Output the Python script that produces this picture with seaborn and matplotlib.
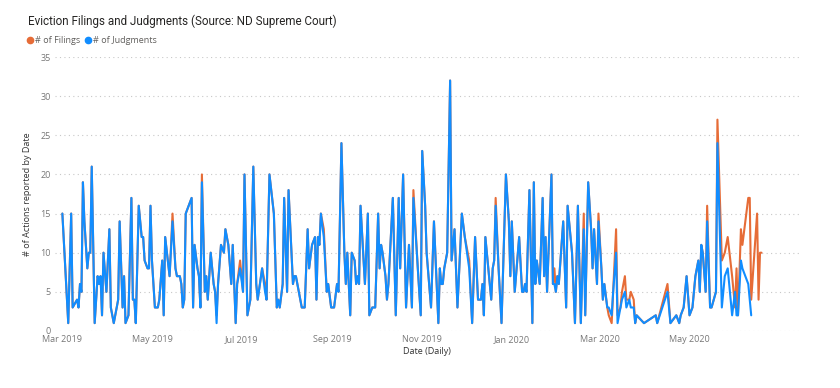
import matplotlib
matplotlib.use('Agg')
import matplotlib.pyplot as plt
import matplotlib.dates as mdates
from matplotlib.lines import Line2D
import pandas as pd
import seaborn as sns

# data: days since 2019-03-01, and counts per day
start = '2019-03-01'
day_offsets = [
    0, 4, 6, 7, 10, 11, 12, 13, 14, 15, 17, 18, 19, 20, 22, 24, 25, 26, 27, 28, 30, 32, 33, 35, 38, 39, 41, 42, 43,
    45, 47, 48, 49, 50, 52, 54, 55, 56, 58, 59, 60, 61, 63, 65, 66, 68, 69, 70, 73, 75, 77, 78, 80, 81, 82, 83, 84, 88, 89, 90, 92, 93,
    94, 95, 97, 98, 99, 101, 103, 104, 105, 106, 108, 110, 111, 113, 115, 116, 118, 119, 121, 123, 124, 126, 128, 130, 132, 133, 136, 138, 139, 141,
    144, 146, 147, 148, 150, 151, 153, 154, 157, 158, 159, 160, 162, 163, 165, 167, 168, 170, 172, 173, 174, 175, 176, 178, 180, 181, 183, 185, 187, 188, 190,
    192, 193, 194, 196, 197, 199, 200, 201, 202, 203, 206, 208, 209, 211, 213, 215, 216, 217, 218, 220, 221, 222, 225, 227, 229, 230, 232, 234, 236, 238, 239,
    242, 244, 245, 247, 248, 251, 253, 256, 257, 258, 259, 260, 262, 264, 265, 267, 269, 272, 274, 277, 279, 281, 283, 285, 286, 287, 288,
    292, 293, 294, 295, 297, 299, 302, 304, 305, 306, 308, 311, 313, 314, 315, 316, 318, 320, 321, 322, 323, 325, 327, 328, 329, 330, 333, 334, 335, 336, 337,
    338, 341, 343, 344, 347, 349, 351, 353, 355, 356, 358, 360, 361, 362, 364, 365, 367, 368, 369, 371, 372, 374, 375, 377, 378, 380, 381, 383, 384, 386,
    387, 389, 390, 391, 396, 404, 405, 412, 414, 418, 420, 421, 423, 425, 427, 429, 431, 432, 433, 434, 435, 436,
    438, 439, 441, 442, 445, 446, 449, 451, 453, 456, 458, 459, 460, 462, 463, 465, 467, 468, 469, 473, 474, 475, 476,
]
judgments = [
    15, 1, 15, 3, 4, 3, 6, 5, 19, 14, 8, 10, 10, 21, 1, 7, 6, 7, 2, 10, 5, 13, 3, 1, 4, 14, 3, 7, 1,
    2, 17, 4, 4, 1, 16, 12, 12, 9, 8, 8, 16, 9, 3, 3, 4, 9, 2, 12, 7, 14, 8, 7, 7, 6, 3, 4, 15, 17, 3, 11, 8, 7,
    3, 19, 5, 7, 4, 10, 6, 5, 1, 6, 11, 10, 13, 11, 6, 11, 1, 6, 8, 5, 20, 2, 4, 21, 6, 4, 8, 5, 4, 20,
    15, 3, 4, 3, 6, 17, 5, 18, 6, 7, 7, 6, 4, 3, 3, 13, 8, 11, 12, 4, 12, 11, 15, 12, 5, 6, 3, 3, 6, 5, 24,
    10, 6, 10, 2, 10, 9, 6, 7, 6, 16, 6, 15, 2, 3, 3, 15, 8, 11, 10, 7, 4, 6, 17, 2, 17, 8, 20, 3, 11, 3, 17,
    8, 2, 23, 16, 10, 3, 14, 1, 8, 6, 6, 8, 10, 32, 9, 13, 3, 15, 12, 8, 1, 12, 4, 4, 6, 2, 12,
    4, 8, 9, 16, 8, 1, 20, 14, 7, 14, 5, 12, 5, 5, 6, 5, 18, 1, 19, 6, 9, 6, 17, 7, 12, 5, 20, 6, 6, 5, 7,
    6, 14, 3, 16, 10, 1, 16, 1, 13, 2, 19, 13, 8, 13, 6, 14, 8, 4, 6, 3, 3, 2, 5, 10, 1, 3, 4, 5, 3, 4,
    3, 3, 1, 2, 1, 2, 1, 5, 1, 2, 1, 2, 3, 7, 2, 3, 7, 8, 9, 5, 11, 10,
    5, 14, 3, 3, 5, 24, 3, 7, 8, 2, 5, 2, 2, 9, 8, 7, 6, 4, 2, None, None, None, None,
]
filings = [
    15, 1, 15, 3, 4, 3, 6, 5, 19, 14, 8, 10, 10, 21, 1, 7, 6, 7, 2, 10, 5, 13, 3, 1, 4, 14, 3, 7, 1,
    2, 17, 4, 4, 1, 16, 12, 12, 9, 8, 8, 16, 9, 3, 3, 4, 9, 2, 12, 7, 15, 8, 7, 7, 6, 3, 4, 15, 17, 3, 11, 8, 7,
    3, 20, 5, 7, 4, 10, 6, 5, 2, 6, 11, 10, 13, 11, 6, 11, 1, 6, 9, 5, 20, 2, 4, 21, 6, 4, 8, 6, 4, 20,
    15, 3, 4, 3, 6, 17, 5, 18, 6, 7, 7, 6, 4, 3, 3, 13, 8, 11, 12, 4, 12, 11, 15, 13, 5, 6, 3, 3, 6, 5, 24,
    10, 6, 10, 2, 10, 9, 6, 7, 6, 16, 6, 15, 2, 3, 3, 15, 8, 11, 10, 7, 4, 6, 17, 2, 17, 8, 20, 3, 11, 3, 18,
    8, 2, 23, 16, 10, 3, 14, 1, 8, 6, 6, 8, 10, 32, 9, 13, 3, 15, 12, 9, 1, 12, 4, 4, 6, 2, 12,
    4, 8, 9, 17, 8, 1, 20, 14, 7, 14, 5, 12, 5, 5, 6, 5, 18, 1, 19, 6, 9, 6, 17, 7, 12, 5, 20, 6, 8, 5, 7,
    6, 14, 3, 16, 10, 1, 16, 1, 15, 2, 19, 13, 8, 13, 6, 15, 8, 4, 6, 3, 2, 1, 5, 13, 2, 3, 5, 7, 4, 4,
    5, 4, 1, 2, 1, 2, 1, 6, 1, 2, 1, 2, 3, 7, 2, 3, 7, 8, 9, 5, 11, 10,
    5, 16, 3, 3, 5, 27, 9, 10, 12, 7, 3, 8, 2, 13, 11, 14, 17, 17, 4, 15, 4, 10, 10,
]
tick_dates = ['2019-03-01', '2019-05-01', '2019-07-01', '2019-09-01',
              '2019-11-01', '2020-01-01', '2020-03-01', '2020-05-01']

orange = '#E66C37'
blue = '#118DFF'

df = pd.DataFrame({
    'date': pd.to_datetime(start) + pd.to_timedelta(day_offsets, unit='D'),
    'filings': pd.to_numeric(pd.Series(filings), errors='coerce'),
    'judgments': pd.to_numeric(pd.Series(judgments), errors='coerce'),
})

sns.set_style('white')
plt.rcParams['font.family'] = ['Open Sans', 'DejaVu Sans']

fig, ax = plt.subplots(figsize=(8.4, 3.88), dpi=100)
fig.subplots_adjust(left=0.0655, right=0.952, top=0.853, bottom=0.147)

sns.lineplot(data=df, x='date', y='filings', color=orange, lw=1.5, ax=ax)
sns.lineplot(data=df.dropna(), x='date', y='judgments', color=blue, lw=1.5, ax=ax)

ax.set_ylim(0, 35)
ax.set_yticks(range(0, 36, 5))
ax.set_xlim(pd.to_datetime(start) - pd.Timedelta(days=5), pd.to_datetime(start) + pd.Timedelta(days=502))
ax.set_xticks(pd.to_datetime(tick_dates))
ax.xaxis.set_major_formatter(mdates.DateFormatter('%b %Y'))

ax.yaxis.grid(True, linestyle=(0, (1, 3)), color='#c8c8c8', lw=0.8)
ax.xaxis.grid(False)
sns.despine(ax=ax, left=True, bottom=True)
ax.tick_params(axis='both', length=0, labelsize=6.5, labelcolor='#777777', pad=3)

ax.set_xlabel('Date (Daily)', fontsize=6.5, color='#333333', labelpad=2)
ax.set_ylabel('# of Actions reported by Date', fontsize=6.5, color='#333333', labelpad=6)

fig.text(0.033, 0.945, 'Eviction Filings and Judgments (Source: ND Supreme Court)',
         fontsize=8.4, color='#252423', family=['Roboto', 'DejaVu Sans'], va='center')

handles = [
    Line2D([], [], marker='o', color=orange, ls='', markersize=4.5),
    Line2D([], [], marker='o', color=blue, ls='', markersize=4.5),
]
fig.legend(handles, ['# of Filings', '# of Judgments'], loc='center left',
           bbox_to_anchor=(0.0316, 0.895), ncol=2, frameon=False, fontsize=6.5,
           handletextpad=0.15, columnspacing=0.4, handlelength=0.8, borderaxespad=0,
           borderpad=0, labelcolor='#605E5C')

fig.savefig('out.png', dpi=100)
